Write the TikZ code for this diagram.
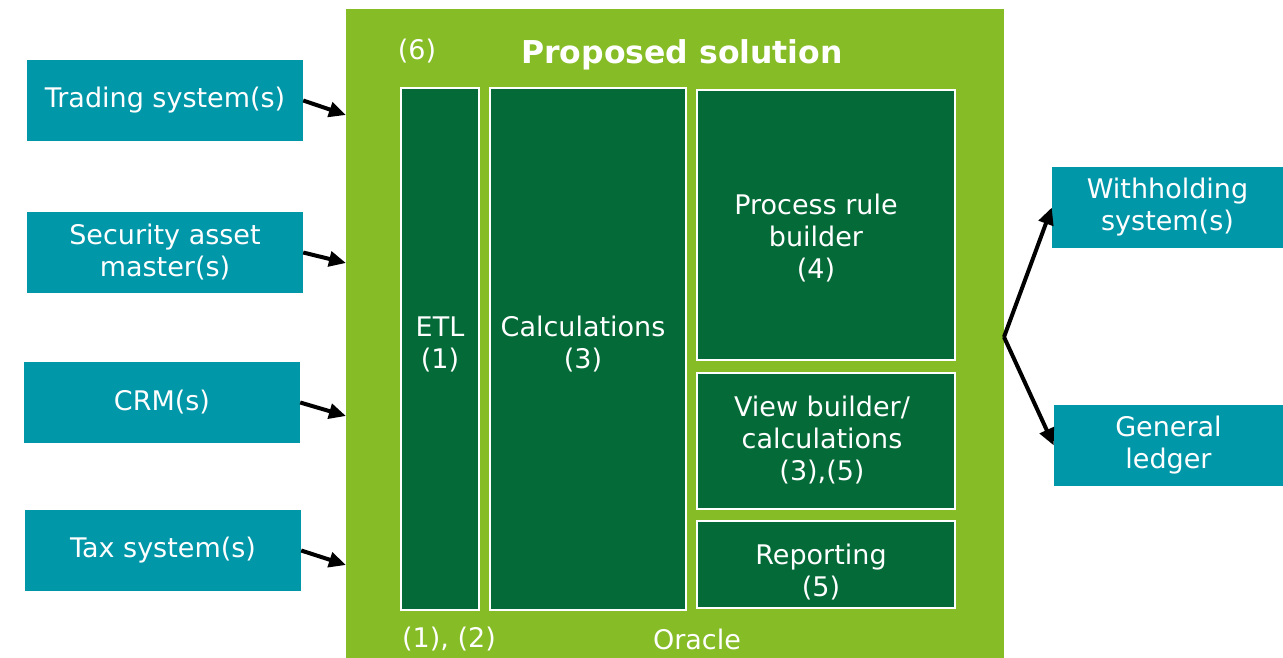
\documentclass[tikz,border=0pt]{standalone}
\usepackage{fontspec}
\setmainfont{DejaVu Sans}
\usetikzlibrary{arrows.meta}
\definecolor{srcblue}{RGB}{0,151,169}
\definecolor{solgreen}{RGB}{134,188,37}
\definecolor{boxgreen}{RGB}{4,106,56}
\begin{document}
\begin{tikzpicture}[x=1pt,y=-1pt,
  every node/.style={font=\fontsize{27}{32}\selectfont, text=white},
  srcbox/.style={fill=srcblue, minimum height=81pt, inner sep=0pt, align=center},
  modbox/.style={fill=boxgreen, draw=white, line width=1.5pt, inner sep=0pt},
  lbl/.style={align=center, inner sep=0pt},
  arr/.style={-{Triangle[length=17pt,width=15pt]}, line width=4pt, draw=black}]
\useasboundingbox (0,0) rectangle (1283,658);

% solution frame
\node[fill=solgreen, minimum width=658pt, minimum height=649pt, inner sep=0pt] (main) at (675,333.5) {};
\node[lbl, font=\fontsize{31.5}{36}\selectfont\bfseries] (title) at (682,55) {Proposed solution};
\node[lbl] (six) at (417,51) {(6)};
\node[lbl] (onetwo) at (449,639) {(1), (2)};
\node[lbl] (oracle) at (697,639) {Oracle};

% modules
\node[modbox, minimum width=78pt, minimum height=522pt] (etl) at (440,349) {};
\node[modbox, minimum width=196pt, minimum height=522pt] (calc) at (588,349) {};
\node[modbox, minimum width=258pt, minimum height=270pt] (prb) at (826,225) {};
\node[modbox, minimum width=258pt, minimum height=136pt] (view) at (826,441) {};
\node[modbox, minimum width=258pt, minimum height=87pt] (rep) at (826,564.5) {};
\node[lbl] (etlt) at (440,344) {ETL\\(1)};
\node[lbl] (calct) at (583,344) {Calculations\\(3)};
\node[lbl] (prbt) at (816,238) {Process rule\\builder\\(4)};
\node[lbl] (viewt) at (822,440) {View builder/\\calculations\\(3),(5)};
\node[lbl] (rept) at (821,572) {Reporting\\(5)};

% source systems
\node[srcbox, minimum width=276pt] (trade) at (165,100.5) {Trading system(s)};
\node[srcbox, minimum width=276pt] (sec) at (165,252.5) {Security asset\\master(s)};
\node[srcbox, minimum width=276pt] (crm) at (162,402.5) {CRM(s)};
\node[srcbox, minimum width=276pt] (tax) at (163,550.5) {Tax system(s)};

% target systems
\node[srcbox, minimum width=231pt] (wh) at (1167.5,207.5) {Withholding\\system(s)};
\node[srcbox, minimum width=229pt] (gl) at (1168.5,445.5) {General\\ledger};

% connectors
\coordinate (in1) at (346,115);
\coordinate (in2) at (346,263);
\coordinate (in3) at (346,416);
\coordinate (in4) at (346,565);
\coordinate (out) at (1004,337);
\draw[arr] (trade.east) -- (in1);
\draw[arr] (sec.east) -- (in2);
\draw[arr] (crm.east) -- (in3);
\draw[arr] (tax.east) -- (in4);
\draw[arr] (out) -- (wh.west);
\draw[arr] (out) -- (gl.west);
\end{tikzpicture}
\end{document}
